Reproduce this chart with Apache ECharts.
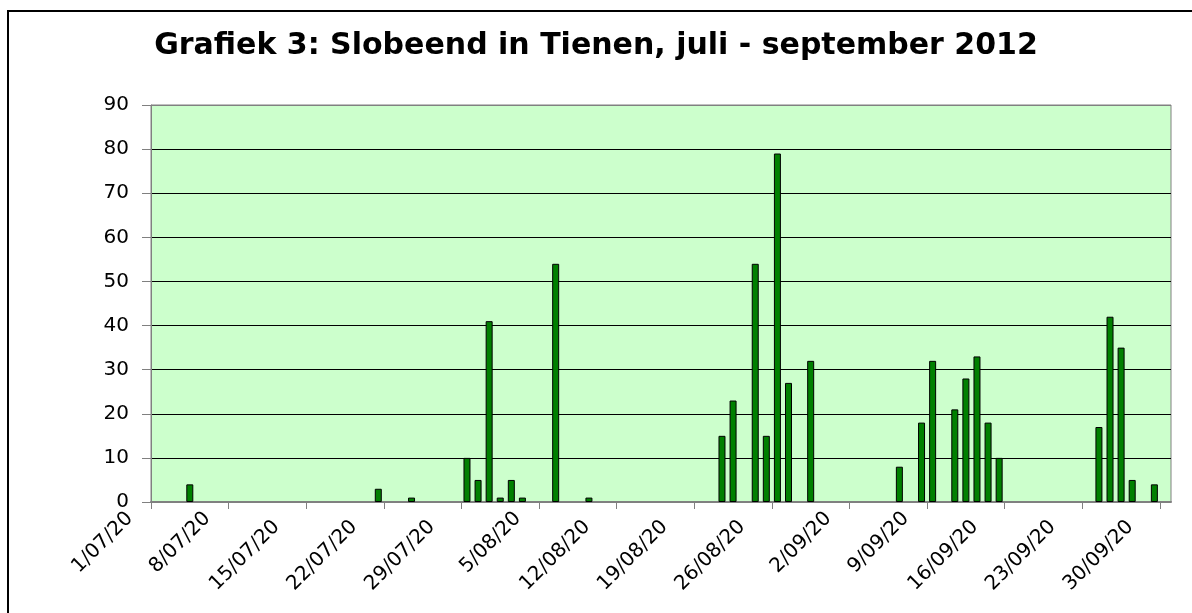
<!DOCTYPE html>
<html>
<head>
<meta charset="utf-8">
<title>Slobeend in Tienen</title>
<script src="https://cdn.jsdelivr.net/npm/echarts@6/dist/echarts.min.js"></script>
<style>
  html, body { margin: 0; padding: 0; background: #fff; }
  #chart { width: 1192px; height: 613px; }
</style>
</head>
<body>
<div id="chart"></div>
<script>
// observation dates (d/mm, 2012) and counts
const obsDates = [
  '4/07', '21/07', '24/07', '29/07', '30/07', '31/07', '1/08', '2/08', '3/08',
  '6/08', '9/08', '21/08', '22/08', '24/08', '25/08', '26/08', '27/08', '29/08',
  '6/09', '8/09', '9/09', '11/09', '12/09', '13/09', '14/09', '15/09',
  '24/09', '25/09', '26/09', '27/09', '29/09'
]
const counts = [
  4, 3, 1, 10, 5, 41, 1, 5, 1,
  54, 1, 15, 23, 54, 15, 79, 27, 32,
  8, 18, 32, 21, 28, 33, 18, 10,
  17, 42, 35, 5, 4
]
// one tick per week, as Excel shows them (cut off)
const tickLabels = [
  '1/07/20', '8/07/20', '15/07/20', '22/07/20', '29/07/20', '5/08/20', '12/08/20',
  '19/08/20', '26/08/20', '2/09/20', '9/09/20', '16/09/20', '23/09/20', '30/09/20'
]
const yTicks = [0, 10, 20, 30, 40, 50, 60, 70, 80, 90]

const startDay = Date.UTC(2012, 6, 1)
const totalDays = 92 // 1 juli - 30 september

// day number since 1 juli, bar centred in its day
function dayIndex(s) {
  const p = s.split('/')
  return (Date.UTC(2012, +p[1] - 1, +p[0]) - startDay) / 86400000
}
const barData = obsDates.map((d, i) => [dayIndex(d) + 0.5, counts[i]])

// the cut-off part of the label leaves an empty gap before the tick
const richLabel = {}
tickLabels.forEach(l => {
  const key = 'g' + l.length
  richLabel[key] = { width: 12 * (l.length - 5) + 6 }
})

const chart = echarts.init(document.getElementById('chart'))
chart.setOption({
  animation: false,
  textStyle: { fontFamily: 'DejaVu Sans' },
  title: {
    text: 'Grafiek 3: Slobeend in Tienen, juli - september 2012',
    left: 'center',
    top: 26,
    textStyle: {
      fontFamily: 'DejaVu Sans',
      fontWeight: 'bold',
      fontSize: 30,
      color: '#000'
    }
  },
  graphic: [{
    type: 'rect',
    shape: { x: 8, y: 11, width: 1300, height: 700 },
    style: { fill: 'none', stroke: '#000', lineWidth: 2 },
    silent: true
  }],
  grid: {
    left: 151,
    right: 21,
    top: 105,
    bottom: 111,
    show: true,
    backgroundColor: '#CCFFCC',
    borderColor: '#808080',
    borderWidth: 1
  },
  xAxis: {
    type: 'value',
    min: 0,
    max: totalDays,
    interval: 7,
    axisLine: { lineStyle: { color: '#808080', width: 2 } },
    axisTick: { length: 7, lineStyle: { color: '#808080' } },
    splitLine: { show: false },
    axisLabel: {
      rotate: 45,
      margin: -8,
      fontSize: 20,
      color: '#000',
      showMaxLabel: false,
      rich: richLabel,
      formatter: function(v) {
        const l = v % 7 === 0 ? tickLabels[v / 7] : ''
        return l ? l + '{g' + l.length + '|}' : ''
      }
    }
  },
  yAxis: {
    type: 'value',
    min: yTicks[0],
    max: yTicks[yTicks.length - 1],
    interval: 10,
    axisLine: { show: true, lineStyle: { color: '#808080', width: 1 } },
    axisTick: { show: true, length: 9, lineStyle: { color: '#808080' } },
    axisLabel: { margin: 22, fontSize: 20, color: '#000' },
    splitLine: {
      lineStyle: {
        color: yTicks.map((t, i) => (i === yTicks.length - 1 ? '#808080' : '#000')),
        width: 1
      }
    }
  },
  series: [{
    type: 'bar',
    data: barData,
    barWidth: 7,
    itemStyle: {
      color: '#008000',
      borderColor: '#000',
      borderWidth: 1
    }
  }]
})
</script>
</body>
</html>
